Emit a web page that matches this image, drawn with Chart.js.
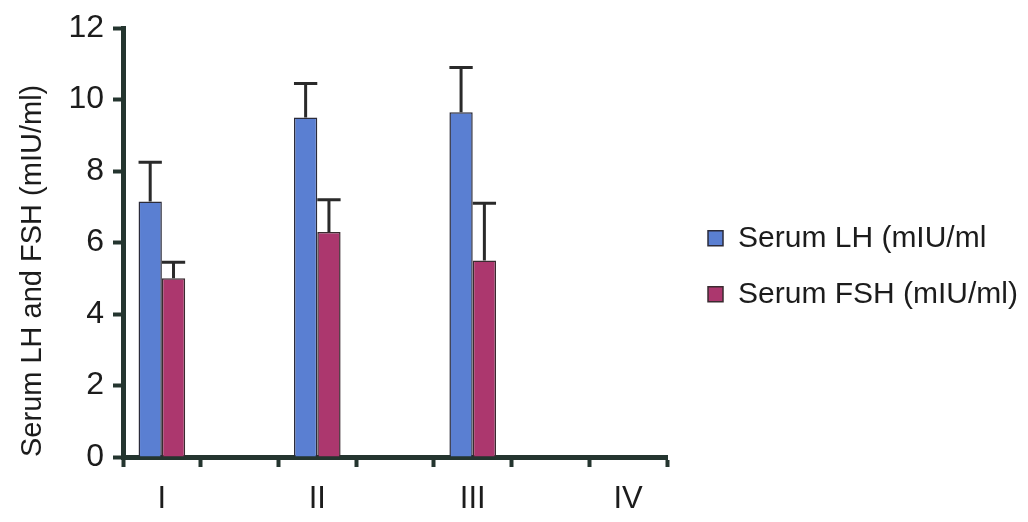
<!DOCTYPE html>
<html>
<head>
<meta charset="utf-8">
<script src="https://cdn.jsdelivr.net/npm/chart.js@4.4.0/dist/chart.umd.min.js"></script>
<style>
    html, body { margin: 0; padding: 0; background: #fff; }
    #wrap { width: 1028px; height: 522px; }
</style>
</head>
<body>
<div id="wrap"><canvas id="chart"></canvas></div>
<script>
// groups along the x axis; an empty slot sits between each pair
const groups = ["I", "II", "III", "IV"];
const lhMean = [7.15, 9.5, 9.65, null];
const lhErr = [1.1, 0.95, 1.25, null];
const fshMean = [5.0, 6.3, 5.5, null];
const fshErr = [0.45, 0.9, 1.6, null];
const yTicks = [0, 2, 4, 6, 8, 10, 12];

const axisColor = "#24352f";
const textColor = "#1c1c1c";
const fontFamily = "'Liberation Sans', Arial, sans-serif";

function spaced(values, gap) {
    const out = [];
    values.forEach((v, i) => {
        out.push(v);
        if (i < values.length - 1) out.push(gap);
    });
    return out;
}

const labels = spaced(groups, "");

// upward-only error bars with a cap as wide as the bar
const errorBars = {
    id: "errorBars",
    afterDatasetsDraw(chart) {
        const ctx = chart.ctx;
        const y = chart.scales.y;
        ctx.save();
        ctx.strokeStyle = "#2a2a2a";
        ctx.lineWidth = 3;
        chart.data.datasets.forEach((ds, di) => {
            const meta = chart.getDatasetMeta(di);
            meta.data.forEach((bar, i) => {
                const v = ds.data[i];
                const e = ds.errors[i];
                if (v == null || e == null) return;
                const top = y.getPixelForValue(v + e);
                const half = bar.width / 2;
                ctx.beginPath();
                ctx.moveTo(bar.x, bar.y);
                ctx.lineTo(bar.x, top);
                ctx.moveTo(bar.x - half, top);
                ctx.lineTo(bar.x + half, top);
                ctx.stroke();
            });
        });
        ctx.restore();
    }
};

new Chart(document.getElementById("chart"), {
    type: "bar",
    data: {
        labels: labels,
        datasets: [{
            label: "Serum LH (mIU/ml",
            data: spaced(lhMean, null),
            errors: spaced(lhErr, null),
            backgroundColor: "#5a7fd2",
            borderColor: "#2b2b3a",
            borderWidth: 1.5
        }, {
            label: "Serum FSH (mIU/ml)",
            data: spaced(fshMean, null),
            errors: spaced(fshErr, null),
            backgroundColor: "#ac376e",
            borderColor: "#3a2b30",
            borderWidth: 1.5
        }]
    },
    options: {
        responsive: true,
        maintainAspectRatio: false,
        animation: false,
        layout: {padding: {top: 26, bottom: 0, left: 0, right: 0}},
        datasets: {bar: {categoryPercentage: 0.6, barPercentage: 1.0}},
        plugins: {
            tooltip: {enabled: false},
            legend: {
                position: "right",
                align: "center",
                fullSize: false,
                maxWidth: 420,
                // empty title only pushes the entries a little lower
                title: {display: true, text: "", padding: {top: 0, bottom: 33}},
                labels: {
                    boxWidth: 15,
                    boxHeight: 15,
                    padding: 26,
                    color: textColor,
                    font: {family: fontFamily, size: 30}
                }
            }
        },
        scales: {
            x: {
                afterFit(scale) {
                    scale.height = 65;
                },
                grid: {
                    display: true,
                    drawOnChartArea: false,
                    tickLength: 10,
                    tickWidth: 4,
                    tickColor: axisColor
                },
                border: {display: true, color: axisColor, width: 5},
                ticks: {
                    autoSkip: false,
                    maxRotation: 0,
                    padding: 14,
                    color: textColor,
                    font: {family: fontFamily, size: 31}
                }
            },
            y: {
                min: 0,
                max: 12,
                afterBuildTicks(scale) {
                    scale.ticks = yTicks.map(v => ({value: v}));
                },
                afterFit(scale) {
                    scale.width = 123;
                },
                grid: {
                    display: true,
                    drawOnChartArea: false,
                    tickLength: 10,
                    tickWidth: 4,
                    tickColor: axisColor
                },
                border: {display: true, color: axisColor, width: 5},
                ticks: {
                    padding: 9,
                    color: textColor,
                    font: {family: fontFamily, size: 32}
                },
                title: {
                    display: true,
                    text: "Serum LH and FSH (mIU/ml)",
                    align: "start",
                    color: textColor,
                    padding: {top: 16, bottom: 0},
                    font: {family: fontFamily, size: 29}
                }
            },
            // keeps a gap between the plot and the legend
            gap: {
                type: "linear",
                position: "right",
                display: true,
                grid: {display: false},
                border: {display: false},
                ticks: {display: false},
                afterFit(scale) {
                    scale.width = 15;
                }
            }
        }
    },
    plugins: [errorBars]
});
</script>
</body>
</html>
